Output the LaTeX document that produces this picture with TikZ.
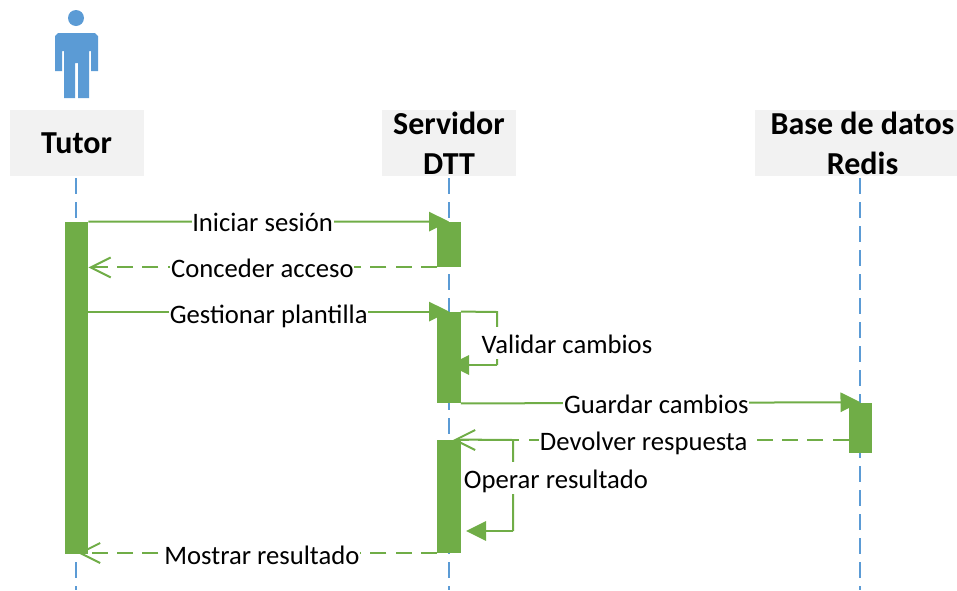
\documentclass[tikz,border=0pt]{standalone}
\usepackage{fontspec}
\setmainfont{Carlito}
\usetikzlibrary{arrows.meta,backgrounds}
\definecolor{barra}{HTML}{70AD47}
\definecolor{vida}{HTML}{5B9BD5}
\definecolor{caja}{HTML}{F2F2F2}

\tikzset{
    actor/.style={fill=caja, minimum width=100.5pt, minimum height=49.5pt, inner sep=0pt, align=center, font=\fontsize{24}{30}\selectfont\bfseries},
    actorname/.style={inner sep=0pt, align=center, font=\fontsize{24}{30}\selectfont\bfseries},
    bar/.style={fill=barra, minimum width=17.5pt, inner sep=0pt},
    lifeline/.style={draw=vida, line width=1.5pt, dash pattern=on 12pt off 6pt},
    msg/.style={draw=barra, line width=1.5pt},
    call/.style={msg, -{Triangle[length=15pt,width=14.5pt]}},
    reply/.style={msg, dash pattern=on 12pt off 7pt, -{Straight Barb[length=15pt,width=15pt]}},
    msglabel/.style={fill=white, inner xsep=0.5pt, inner ysep=0pt, text height=18pt, text depth=2.5pt, minimum height=24pt, font=\fontsize{20}{24}\selectfont},
}

\begin{document}
\begin{tikzpicture}[x=0.75pt, y=-0.75pt]
\useasboundingbox (0,0) rectangle (957,590);

% actor
\node (head) [circle, fill=vida, minimum size=12pt, inner sep=0pt] at (76,18) {};
\fill [vida] (58,33) -- (95,33) -- (98,36) -- (98,71) -- (91,71) -- (91,51) -- (89,51) -- (89,98) -- (78,98) -- (78,63) -- (75,63) -- (75,98) -- (64,98) -- (64,51) -- (62,51) -- (62,71) -- (55,71) -- (55,36) -- cycle;

\node (tutor) [actor] at (76.5,143) {Tutor};
\node (dtt) [actor] at (449,143) {Servidor\\DTT};
\node (redis) [actor, minimum width=151.5pt] at (856,143) {};
\node (redisname) [actorname] at (862.5,143) {Base de datos\\Redis};

\coordinate (tutorend) at (76,590);
\coordinate (dttend) at (449,590);
\coordinate (redisend) at (860,590);

% activation bars
\node (tutorbar) [bar, minimum height=249pt] at (76.5,388) {};
\node (dttbara) [bar, minimum height=34pt] at (449,244.5) {};
\node (dttbarb) [bar, minimum height=68.5pt] at (449,357.5) {};
\node (dttbarc) [bar, minimum height=85pt] at (449,496.5) {};
\node (redisbar) [bar, minimum height=37.5pt] at (860.5,427.5) {};

% loops
\coordinate (validara) at (497,312);
\coordinate (validarb) at (497,365);
\coordinate (validarc) at (449,365);
\coordinate (operara) at (513,440);
\coordinate (operarb) at (513,531);
\coordinate (operarc) at (466,531);
\coordinate (mostrarend) at (78,553);
\coordinate (devolverend) at (453,440);

\begin{pgfonlayer}{background}
    \draw [lifeline] (76,178) -- (tutorend);
    \draw [lifeline] (449,178) -- (dttend);
    \draw [lifeline] (860,178) -- (redisend);
    \draw [call] (validarb) -- (validarc);
\end{pgfonlayer}

\draw [call] (tutorbar.north east) -- (dttbara.north) node (iniciar) [msglabel, pos=.483] {Iniciar sesión};
\draw [reply] (dttbara.south west) -- (tutorbar.east |- dttbara.south) node (conceder) [msglabel, pos=.501] {Conceder acceso};
\draw [call] (tutorbar.east |- dttbarb.north) -- (dttbarb.north) node (gestionar) [msglabel, pos=.5, yshift=-1pt] {Gestionar plantilla};
\draw [msg] (dttbarb.north east) -- (validara) -- (validarb);
\node (validar) [msglabel] at (567,343) {Validar cambios};
\draw [call] (dttbarb.south east) -- (redisbar.north) node (guardar) [msglabel, pos=.489] {Guardar cambios};
\draw [reply] (redisbar.west |- devolverend) -- (devolverend) node (devolver) [msglabel, pos=.518] {Devolver respuesta};
\draw [msg] (dttbarc.north east) -- (operara) -- (operarb);
\draw [call] (operarb) -- (operarc);
\node (operar) [msglabel] at (556,478) {Operar resultado};
\draw [reply] (dttbarc.west |- mostrarend) -- (mostrarend) node (mostrar) [msglabel, pos=.488, yshift=-1pt] {Mostrar resultado};

\end{tikzpicture}
\end{document}
